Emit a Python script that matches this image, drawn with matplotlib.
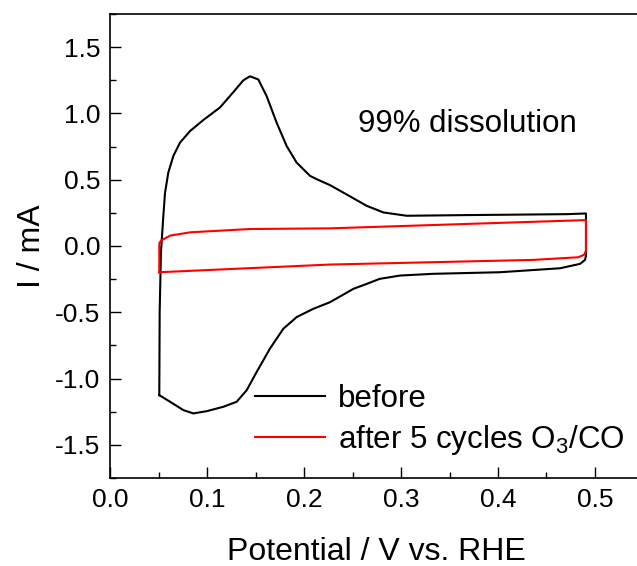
import matplotlib
matplotlib.use('Agg')
import matplotlib.pyplot as plt
from matplotlib.ticker import MultipleLocator

plt.rcParams['font.family'] = ['Liberation Sans', 'DejaVu Sans']
plt.rcParams['mathtext.fontset'] = 'custom'
plt.rcParams['mathtext.rm'] = 'Liberation Sans'
plt.rcParams['mathtext.it'] = 'Liberation Sans:italic'
plt.rcParams['axes.unicode_minus'] = False

# CV antes (ciclo fechado: varredura anódica e depois catódica)
before_v = [0.0508, 0.0512, 0.0525, 0.055, 0.0567, 0.0601, 0.0653, 0.0722, 0.0825,
            0.0962, 0.1134, 0.1271, 0.1375, 0.1443, 0.1529, 0.1615, 0.1718, 0.1821,
            0.1924, 0.2062, 0.213, 0.2268, 0.2405, 0.2646, 0.2818, 0.3059, 0.3677,
            0.4708, 0.4897, 0.4907,
            0.4907, 0.4897, 0.4845, 0.464, 0.402, 0.333, 0.299, 0.278, 0.2646, 0.251,
            0.2268, 0.2096, 0.1925, 0.1787, 0.1649, 0.1512, 0.1409, 0.1306, 0.1168,
            0.0997, 0.0859, 0.0756, 0.0619, 0.0508]
before_i = [-1.125, -0.50, -0.05, 0.228, 0.40, 0.554, 0.679, 0.78, 0.867,
            0.950, 1.045, 1.160, 1.250, 1.28, 1.256, 1.13, 0.93, 0.754,
            0.629, 0.529, 0.504, 0.459, 0.403, 0.303, 0.253, 0.228, 0.233,
            0.24, 0.245, 0.245,
            -0.073, -0.105, -0.135, -0.168, -0.198, -0.21, -0.223, -0.248, -0.286, -0.323,
            -0.424, -0.474, -0.536, -0.624, -0.774, -0.95, -1.088, -1.175, -1.213,
            -1.246, -1.263, -1.238, -1.175, -1.125]

# CV depois de 5 ciclos O3/CO
after_v = [0.0508, 0.0508, 0.0525, 0.0619, 0.0825, 0.1443, 0.2268, 0.4897,
           0.4907, 0.4907, 0.489, 0.4828, 0.4364, 0.2268, 0.0508]
after_i = [-0.198, 0.02, 0.04, 0.078, 0.103, 0.128, 0.133, 0.195,
           0.195, -0.035, -0.065, -0.085, -0.105, -0.140, -0.198]

labels = ['before', 'after 5 cycles O$_3$/CO']

fig = plt.figure(figsize=(6.37, 5.66), dpi=100)
ax = fig.add_axes([0.1727, 0.1555, 0.8375, 0.8198])

ax.plot(before_v, before_i, color='black', linewidth=1.5, label=labels[0])
ax.plot(after_v, after_i, color='red', linewidth=1.5, label=labels[1])

ax.set_xlim(0.0, 0.55)
ax.set_ylim(-1.75, 1.75)
ax.xaxis.set_major_locator(MultipleLocator(0.1))
ax.xaxis.set_minor_locator(MultipleLocator(0.05))
ax.yaxis.set_major_locator(MultipleLocator(0.5))
ax.yaxis.set_minor_locator(MultipleLocator(0.25))
ax.tick_params(which='both', direction='in', top=False, right=False,
               width=1.0, labelsize=19, pad=7)
ax.tick_params(which='major', length=8)
ax.tick_params(which='minor', length=4)
for s in ax.spines.values():
    s.set_linewidth(1.2)

ax.set_xlabel('Potential / V vs. RHE', fontsize=23, labelpad=18)
ax.set_ylabel('I / mA', fontsize=23, labelpad=6)

ax.text(0.2554, 0.92, '99% dissolution', fontsize=22.5, va='center', ha='left')

ax.legend(loc='lower left', bbox_to_anchor=(0.272, 0.045), frameon=False,
          fontsize=22.5, handlelength=2.25, handletextpad=0.4,
          labelspacing=0.3, borderaxespad=0, borderpad=0)

plt.savefig('out.png', dpi=100)
plt.close()
